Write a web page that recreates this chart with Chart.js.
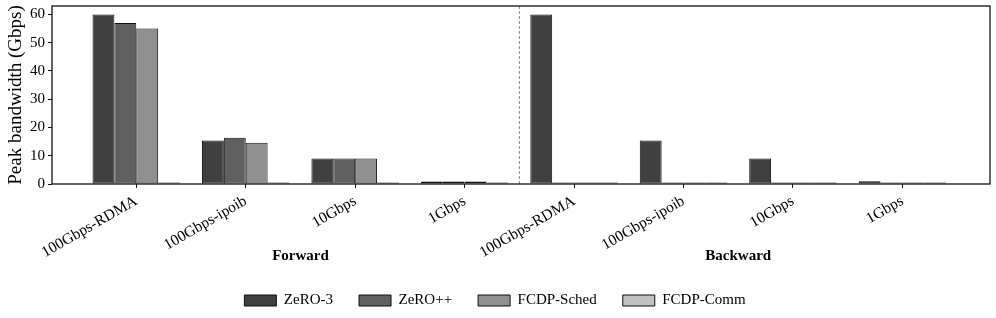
<!DOCTYPE html>
<html>
<head>
<meta charset="utf-8">
<script src="https://cdn.jsdelivr.net/npm/chart.js@4/dist/chart.umd.min.js"></script>
<style>
  body{margin:0;background:#fff}
  #wrap{width:996px;height:318px;position:relative}
</style>
</head>
<body>
<div id="wrap"><canvas id="bw"></canvas></div>
<script>
const CATEGORIES = ['100Gbps-RDMA','100Gbps-ipoib','10Gbps','1Gbps','100Gbps-RDMA','100Gbps-ipoib','10Gbps','1Gbps'];
const PHASES = ['Forward','Backward'];
const ZERO3     = [60, 15.4, 9.0, 0.9, 60, 15.4, 9.0, 1.0];
const ZEROPP    = [57, 16.4, 9.0, 0.9, 0.5, 0.5, 0.5, 0.5];
const FCDP_SCHED= [55, 14.6, 9.0, 0.9, 0.5, 0.5, 0.5, 0.5];
const FCDP_COMM = [0.5, 0.5, 0.5, 0.5, 0.5, 0.5, 0.5, 0.5];
const Y_TICKS = [0,10,20,30,40,50,60];

const SERIF = "'Liberation Serif','DejaVu Serif',serif";
const pts = arr => arr.map((v,i)=>({x:i,y:v}));
const ds = (label,data,color) => ({label,data:pts(data),backgroundColor:color,borderColor:'#111',borderWidth:1,borderSkipped:false});

// frame, phase separator and phase names
const deco = {
  id:'deco',
  afterDraw(chart){
    const {ctx, chartArea:a, scales:{x}} = chart;
    ctx.save();
    const sx = x.getPixelForValue(3.5);
    ctx.strokeStyle='#666'; ctx.lineWidth=0.8; ctx.setLineDash([3,2]);
    ctx.beginPath(); ctx.moveTo(sx,a.top); ctx.lineTo(sx,a.bottom); ctx.stroke();
    ctx.setLineDash([]);
    ctx.strokeStyle='#111'; ctx.lineWidth=1.3;
    ctx.strokeRect(a.left,a.top,a.right-a.left,a.bottom-a.top);
    ctx.fillStyle='#000'; ctx.font="bold 15px "+SERIF;
    ctx.textAlign='center'; ctx.textBaseline='middle';
    ctx.fillText(PHASES[0], x.getPixelForValue(1.5), 256);
    ctx.fillText(PHASES[1], x.getPixelForValue(5.5), 256);
    ctx.restore();
  }
};

new Chart(document.getElementById('bw'),{type:'bar',
  data:{datasets:[
    ds('ZeRO-3',ZERO3,'#404040'),
    ds('ZeRO++',ZEROPP,'#606060'),
    ds('FCDP-Sched',FCDP_SCHED,'#909090'),
    ds('FCDP-Comm',FCDP_COMM,'#c0c0c0'),
  ]},
  options:{responsive:true,maintainAspectRatio:false,animation:false,
    categoryPercentage:0.8,barPercentage:1,
    layout:{padding:{top:6,right:6,left:0,bottom:0}},
    plugins:{tooltip:{enabled:false},
      legend:{position:'bottom',labels:{boxWidth:32,boxHeight:11,padding:26,color:'#000',font:{family:SERIF,size:15}}}},
    scales:{
      x:{type:'linear',min:-0.77,max:7.8,offset:false,
        afterBuildTicks:s=>{s.ticks=CATEGORIES.map((_,i)=>({value:i}));},
        afterFit:s=>{s.height=83;},
        border:{display:false},
        grid:{offset:false,drawOnChartArea:false,drawTicks:true,tickLength:4,color:'#111'},
        ticks:{autoSkip:false,minRotation:30,maxRotation:30,padding:4,color:'#000',font:{family:SERIF,size:15.5},
          callback:v=>CATEGORIES[v]}},
      y:{min:0,max:63,
        afterBuildTicks:s=>{s.ticks=Y_TICKS.map(v=>({value:v}));},
        afterFit:s=>{s.width=52;s.paddingTop=0;s.paddingBottom=0;},
        border:{display:false},
        grid:{drawOnChartArea:false,drawTicks:true,tickLength:4,color:'#111'},
        ticks:{color:'#000',font:{family:SERIF,size:15}},
        title:{display:true,text:'Peak bandwidth (Gbps)',color:'#000',font:{family:SERIF,size:19},padding:{top:5,bottom:0}}}
    }},
  plugins:[deco]
});
</script>
</body>
</html>
